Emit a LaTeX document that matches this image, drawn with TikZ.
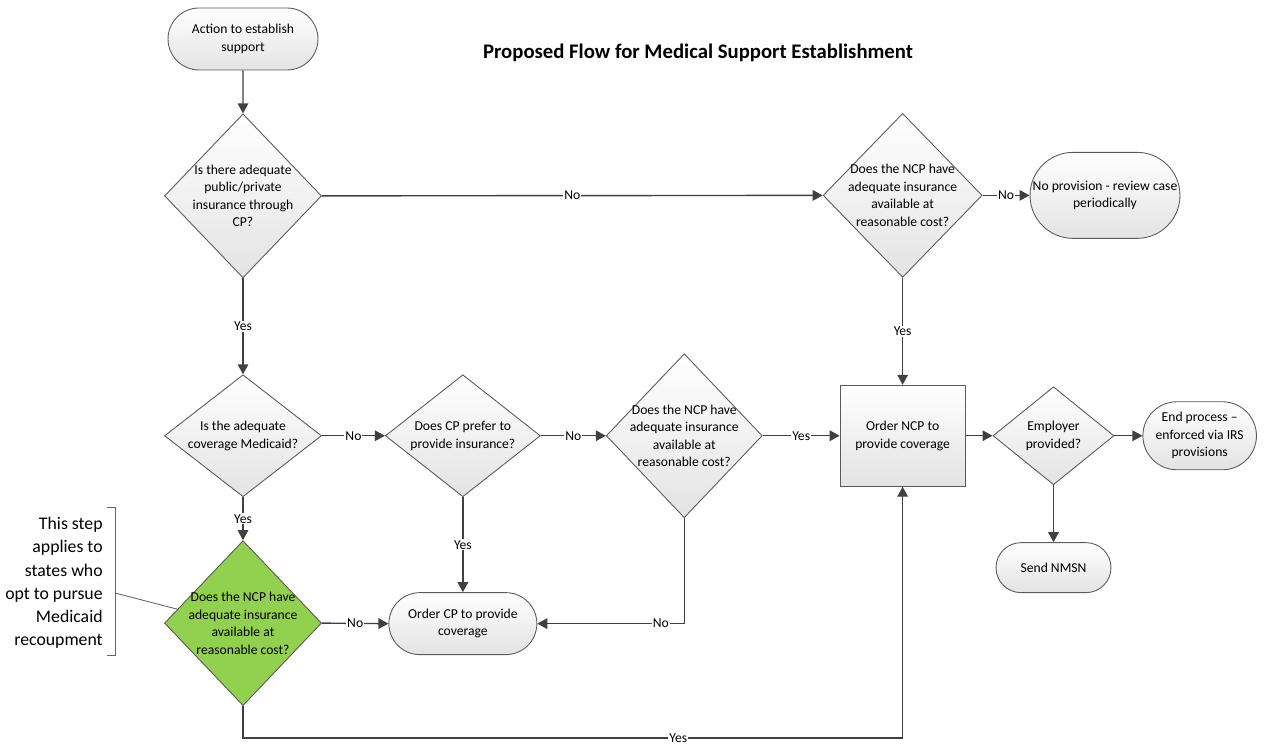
\documentclass[tikz,border=0pt]{standalone}
\usepackage{fontspec}
\setmainfont{Carlito}
\usepackage{tikz}
\usetikzlibrary{arrows.meta, positioning, shapes.geometric, shapes.misc}

\definecolor{linegray}{RGB}{64,64,64}
\definecolor{edgegray}{RGB}{90,90,90}
\definecolor{stepgreen}{RGB}{146,208,80}
\newcommand{\flowfont}{\fontsize{7.75}{9.96}\selectfont}
\newcommand{\asidefont}{\fontsize{10.1}{13.2}\selectfont}
\newcommand{\headfont}{\fontsize{11.8}{14}\selectfont\bfseries}

\begin{document}
\begin{tikzpicture}[
            terminal/.style={rounded rectangle, draw=edgegray, line width=0.5pt, top color=white, bottom color=gray!22, align=center, font=\flowfont, inner sep=2pt},
            decision/.style={diamond, draw=edgegray, line width=0.5pt, top color=white, bottom color=gray!22, inner sep=0pt, minimum width=3.14cm, minimum height=3.28cm},
            dtext/.style={align=center, font=\flowfont, inner sep=0pt},
            process/.style={rectangle, draw=edgegray, line width=0.5pt, top color=white, bottom color=gray!22, align=center, font=\flowfont},
            arrow/.style={-{Triangle[length=5.7pt, width=6pt]}, line width=0.8pt, draw=linegray},
            lbl/.style={fill=white, inner sep=0.6pt, font=\flowfont},
            brk/.style={draw=gray!80!black, line width=0.5pt}
        ]
        \useasboundingbox (0,0) rectangle (25.3,-14.9);

        % Title
        \node[font=\headfont] (title) at (13.96,-1.06) {Proposed Flow for Medical Support Establishment};

        % Left column: start and first checks
        \node[terminal, minimum width=3.14cm, minimum height=1.24cm] (start) at (4.86,-0.78) {Action to establish\\support};
        \node[decision, below=0.86cm of start, label={[dtext]center:{Is there adequate\\public/private\\insurance through\\CP?}}] (d1) {};
        \node[decision, minimum height=2.44cm, below=1.92cm of d1, label={[dtext]center:{Is the adequate\\coverage Medicaid?}}] (d3) {};
        \node[decision, fill=stepgreen, top color=stepgreen, bottom color=stepgreen, minimum height=3.30cm, below=0.86cm of d3, label={[dtext]center:{Does the NCP have\\adequate insurance\\available at\\reasonable cost?}}] (gr) {};

        % Middle row
        \node[decision, minimum width=3.10cm, minimum height=2.44cm, right=1.26cm of d3, label={[dtext]center:{Does CP prefer to\\provide insurance?}}] (d4) {};
        \node[decision, minimum width=3.12cm, right=1.30cm of d4, label={[dtext]center:{Does the NCP have\\adequate insurance\\available at\\reasonable cost?}}] (d5) {};
        \node[process, minimum width=2.50cm, minimum height=2.02cm, right=1.54cm of d5] (ncp) {Order NCP to\\provide coverage};
        \node[decision, minimum width=2.42cm, minimum height=1.96cm, right=0.54cm of ncp, label={[dtext]center:{Employer\\provided?}}] (d6) {};
        \node[terminal, minimum width=2.26cm, minimum height=1.36cm, right=0.56cm of d6] (end2) {End process –\\enforced via IRS\\provisions};
        \node[terminal, minimum width=2.44cm, minimum height=1.00cm, below=1.14cm of d6] (nmsn) {Send NMSN};
        \node[terminal, minimum width=3.10cm, minimum height=1.24cm, below=1.90cm of d4] (cp) {Order CP to provide\\coverage};

        % Top right
        \node[decision, minimum width=3.18cm, above=2.14cm of ncp, label={[dtext]center:{Does the NCP have\\adequate insurance\\available at\\reasonable cost?}}] (d2) {};
        \node[terminal, minimum width=3.14cm, minimum height=1.72cm, right=0.94cm of d2] (end1) {No provision - review case\\periodically};

        % Side note
        \node[font=\asidefont, align=right, anchor=east, inner sep=0pt] (note) at (2.06,-11.66) {This step\\applies to\\states who\\opt to pursue\\Medicaid\\recoupment};
        \coordinate (bt) at (2.30,-10.14);
        \coordinate (bb) at (2.30,-13.10);
        \coordinate (bm) at (2.30,-11.86);
        \draw[brk] ([xshift=-0.16cm]bt) -- (bt) -- (bb) -- ([xshift=-0.16cm]bb);
        \draw[brk] (bm) -- (gr.168);

        % Connectors
        \draw[arrow] (start) -- (d1);
        \draw[arrow] (d1.east) -- node[lbl] {No} (d2.west);
        \draw[arrow] (d2.east) -- node[lbl] {No} (end1.west);
        \draw[arrow] (d2.south) -- node[lbl] {Yes} (ncp.north);
        \draw[arrow] (d1.south) -- node[lbl] {Yes} (d3.north);
        \draw[arrow] (d3.east) -- node[lbl] {No} (d4.west);
        \draw[arrow] (d4.east) -- node[lbl] {No} (d5.west);
        \draw[arrow] (d5.east) -- node[lbl] {Yes} (ncp.west);
        \draw[arrow] (d3.south) -- node[lbl] {Yes} (gr.north);
        \draw[arrow] (d4.south) -- node[lbl] {Yes} (cp.north);
        \draw[arrow] (d5.south) |- node[lbl, pos=0.58] {No} (cp.east);
        \draw[arrow] (gr.east) -- node[lbl] {No} (cp.west);
        \draw[arrow] (gr.south) -- ++(0,-0.64) -| node[lbl, pos=0.33] {Yes} (ncp.south);
        \draw[arrow] (ncp.east) -- (d6.west);
        \draw[arrow] (d6.east) -- (end2.west);
        \draw[arrow] (d6.south) -- (nmsn.north);

    \end{tikzpicture}
\end{document}
